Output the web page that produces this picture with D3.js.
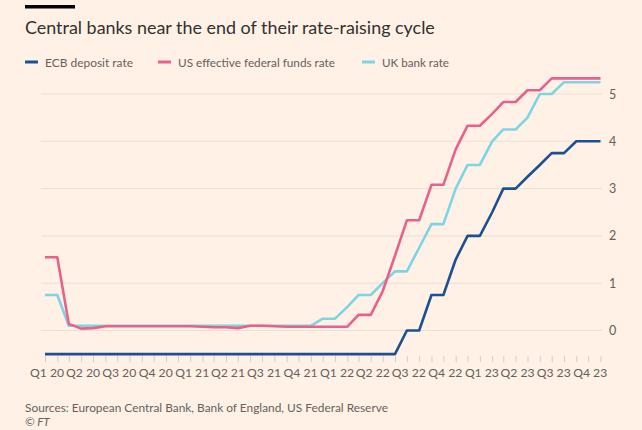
<!DOCTYPE html>
<html>
<head>
<meta charset="utf-8">
<script src="https://cdn.jsdelivr.net/npm/d3@7"></script>
<style>
  html, body { margin: 0; padding: 0; background: #fff1e5; }
  svg { display: block; }
  text { font-family: Lato, "Open Sans", sans-serif; }
</style>
</head>
<body>
<svg id="chart" width="642" height="430"></svg>
<script>
// Monthly, end-of-month values, Jan 2020 .. Nov 2023
const months = d3.range(47).map(i => new Date(2020, i, 1));
const ecbRate = [
  -0.5,-0.5,-0.5,-0.5,-0.5,-0.5,-0.5,-0.5,-0.5,-0.5,-0.5,-0.5,
  -0.5,-0.5,-0.5,-0.5,-0.5,-0.5,-0.5,-0.5,-0.5,-0.5,-0.5,-0.5,
  -0.5,-0.5,-0.5,-0.5,-0.5,-0.5,0,0,0.75,0.75,1.5,2.0,
  2.0,2.5,3.0,3.0,3.25,3.5,3.75,3.75,4.0,4.0,4.0
];
const usRate = [
  1.55,1.55,0.14,0.04,0.05,0.09,0.09,0.09,0.09,0.09,0.09,0.09,
  0.09,0.08,0.07,0.07,0.05,0.1,0.1,0.09,0.08,0.08,0.08,0.08,
  0.08,0.08,0.33,0.33,0.83,1.58,2.33,2.33,3.08,3.08,3.83,4.33,
  4.33,4.58,4.83,4.83,5.08,5.08,5.33,5.33,5.33,5.33,5.33
];
const ukRate = [
  0.75,0.75,0.1,0.1,0.1,0.1,0.1,0.1,0.1,0.1,0.1,0.1,
  0.1,0.1,0.1,0.1,0.1,0.1,0.1,0.1,0.1,0.1,0.1,0.25,
  0.25,0.5,0.75,0.75,1.0,1.25,1.25,1.75,2.25,2.25,3.0,3.5,
  3.5,4.0,4.25,4.25,4.5,5.0,5.0,5.25,5.25,5.25,5.25
];
const seriesNames = ["ECB deposit rate", "US effective federal funds rate", "UK bank rate"];
const seriesColors = ["#1b5192", "#e8618c", "#7dd5e2"];
const yTicks = [0, 1, 2, 3, 4, 5];
const xTickLabels = ["Q1 20","Q2 20","Q3 20","Q4 20","Q1 21","Q2 21","Q3 21","Q4 21",
                     "Q1 22","Q2 22","Q3 22","Q4 22","Q1 23","Q2 23","Q3 23","Q4 23"];

const svg = d3.select("#chart");
const W = 642, H = 430;
svg.append("rect").attr("width", W).attr("height", H).attr("fill", "#fff1e5");

const x = d3.scaleTime().domain([months[0], months[months.length - 1]]).range([45, 600.5]);
const y = d3.scaleLinear().domain([0, 5]).range([330.5, 94]);

function fitText(sel, target) {
  const node = sel.node();
  const fs = parseFloat(sel.attr("font-size"));
  const w = node.getComputedTextLength();
  if (w > 0) sel.attr("font-size", (fs * target / w).toFixed(2));
}

// top bar
svg.append("rect").attr("x", 25).attr("y", 5).attr("width", 50).attr("height", 3.5).attr("fill", "#000");

// title
const title = svg.append("text").attr("x", 25).attr("y", 33.5)
  .attr("font-size", 17).attr("fill", "#33302e")
  .text("Central banks near the end of their rate-raising cycle");
fitText(title, 410);

// legend
const legendX = [25, 158, 362];
const legendW = [88, 157, 67];
seriesNames.forEach((name, i) => {
  svg.append("line").attr("x1", legendX[i]).attr("x2", legendX[i] + 13)
    .attr("y1", 62).attr("y2", 62)
    .attr("stroke", seriesColors[i]).attr("stroke-width", 3);
  const t = svg.append("text").attr("x", legendX[i] + 20).attr("y", 66.5)
    .attr("font-size", 12).attr("fill", "#66605c").text(name);
  fitText(t, legendW[i]);
});

// gridlines
svg.append("g").selectAll("line").data(yTicks).join("line")
  .attr("x1", 41).attr("x2", 602)
  .attr("y1", d => y(d)).attr("y2", d => y(d))
  .attr("stroke", "#ebdfd4").attr("stroke-width", 1);

// y axis labels on right
const yAxis = d3.axisRight(y).tickValues(yTicks).tickSize(0).tickPadding(0).tickFormat(d3.format("d"));
const gy = svg.append("g").attr("transform", "translate(609,0)").call(yAxis);
gy.select(".domain").remove();
gy.selectAll("text").attr("font-size", 12.5).attr("fill", "#66605c")
  .attr("font-family", "Lato, 'Open Sans', sans-serif");

// x axis month ticks
const xAxisTicks = d3.axisBottom(x).tickValues(months).tickSize(6).tickFormat("");
const gx = svg.append("g").attr("transform", "translate(0,356)").call(xAxisTicks);
gx.select(".domain").remove();
gx.selectAll(".tick line").attr("stroke", "#d8ccc1");

// x labels (quarters)
const quarterDates = months.filter((d, i) => i % 3 === 0);
const xAxisLabels = d3.axisBottom(x).tickValues(quarterDates).tickSize(0).tickPadding(0)
  .tickFormat((d, i) => xTickLabels[i]);
const gxl = svg.append("g").attr("transform", "translate(1.5,368)").call(xAxisLabels);
gxl.select(".domain").remove();
gxl.selectAll("text").attr("font-size", 12).attr("fill", "#66605c")
  .attr("font-family", "Lato, 'Open Sans', sans-serif");
gxl.selectAll("text").each(function() { fitText(d3.select(this), 34); });

// lines
const line = d3.line().x((d, i) => x(months[i])).y(d => y(d)).curve(d3.curveLinear);
const allSeries = [ukRate, usRate, ecbRate];
const allColors = [seriesColors[2], seriesColors[1], seriesColors[0]];
svg.append("g").selectAll("path").data(allSeries).join("path")
  .attr("d", line)
  .attr("fill", "none")
  .attr("stroke", (d, i) => allColors[i])
  .attr("stroke-width", 2.6)
  .attr("stroke-linejoin", "round");

// source
const src = svg.append("text").attr("x", 25).attr("y", 412)
  .attr("font-size", 12).attr("fill", "#66605c")
  .text("Sources: European Central Bank, Bank of England, US Federal Reserve");
fitText(src, 363);
svg.append("text").attr("x", 25).attr("y", 426)
  .attr("font-size", 11.5).attr("font-style", "italic").attr("fill", "#66605c")
  .text("© FT");
</script>
</body>
</html>
